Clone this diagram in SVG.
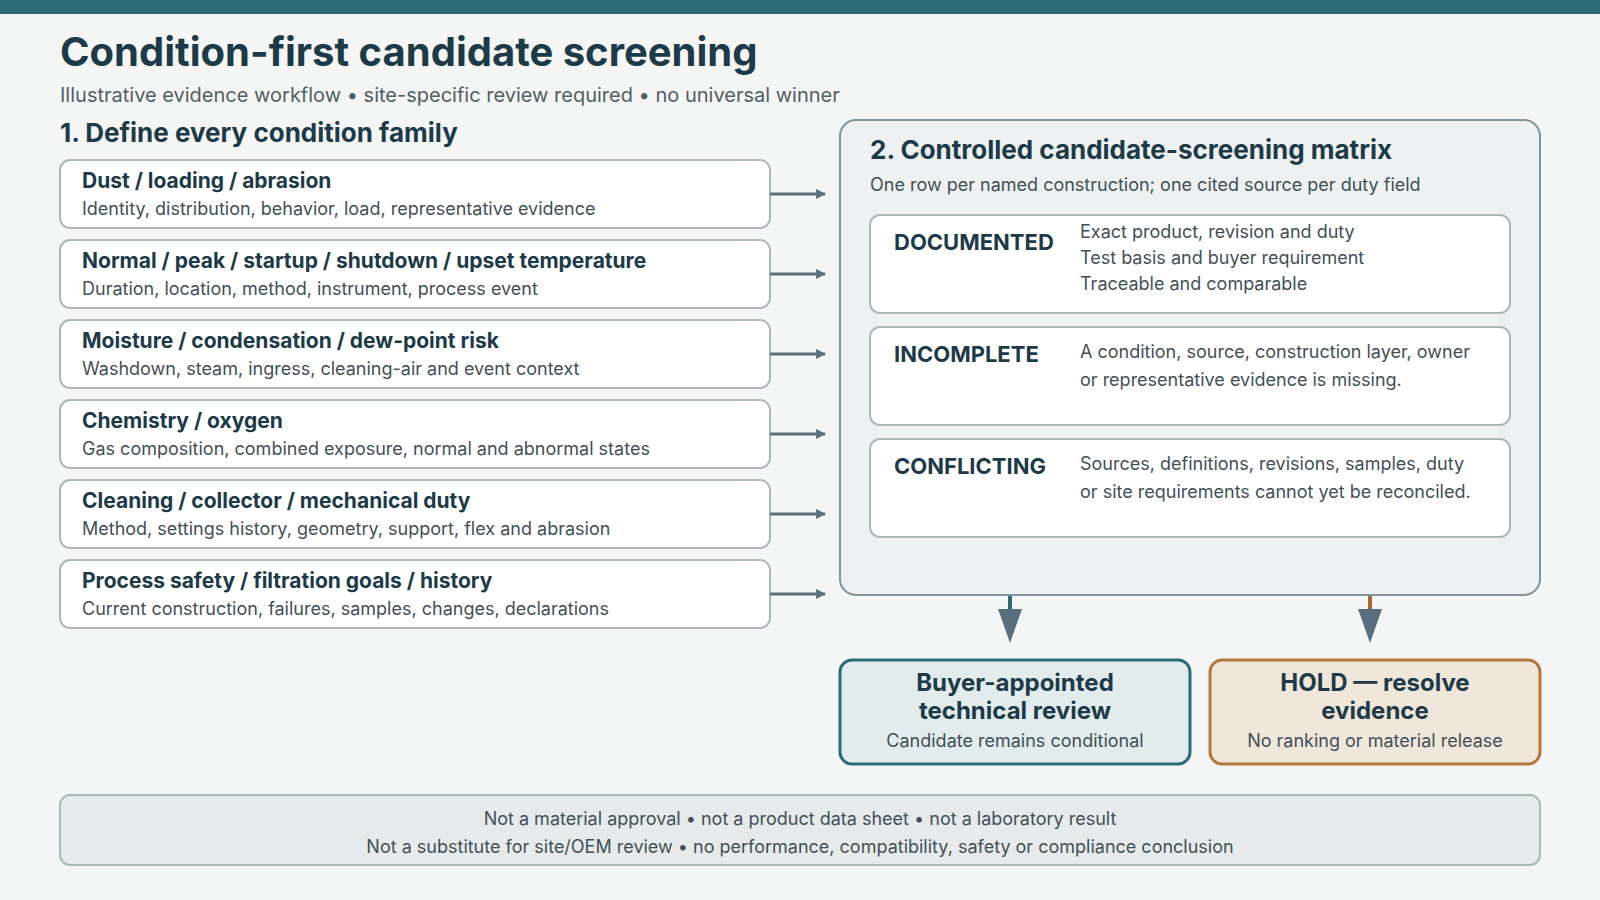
<svg xmlns="http://www.w3.org/2000/svg" width="1600" height="900" viewBox="0 0 1600 900">
<style>
text{font-family:Inter,"Noto Sans","Liberation Sans",sans-serif;fill:#1d3a48}
.h{font-weight:700;font-size:21px}
.s{font-size:18px;fill:#3f5058}
.box{fill:#fff;stroke:#a9b8bd;stroke-width:2}
.lab{font-weight:700;font-size:22px}
.c{text-anchor:middle}
</style>
<defs>
<marker id="ah" markerWidth="10" markerHeight="10" refX="9" refY="5" orient="auto" markerUnits="userSpaceOnUse" viewBox="0 0 10 10"><path d="M0,0L10,5L0,10z" fill="#5a6f7e"/></marker>
</defs>
<rect width="1600" height="900" fill="#f4f6f5"/>
<rect width="1600" height="14" fill="#2a6b75"/>
<text x="60" y="66" font-size="40" font-weight="700">Condition-first candidate screening</text>
<text x="60" y="102" font-size="20" style="fill:#4f5f66">Illustrative evidence workflow • site-specific review required • no universal winner</text>
<text x="60" y="142" font-size="26" font-weight="700">1. Define every condition family</text>
<g id="c1"><rect class="box" x="60" y="160" width="710" height="68" rx="10"/><text class="h" x="82" y="188">Dust / loading / abrasion</text><text class="s" x="82" y="215">Identity, distribution, behavior, load, representative evidence</text></g>
<g id="c2"><rect class="box" x="60" y="240" width="710" height="68" rx="10"/><text class="h" x="82" y="268">Normal / peak / startup / shutdown / upset temperature</text><text class="s" x="82" y="295">Duration, location, method, instrument, process event</text></g>
<g id="c3"><rect class="box" x="60" y="320" width="710" height="68" rx="10"/><text class="h" x="82" y="348">Moisture / condensation / dew-point risk</text><text class="s" x="82" y="375">Washdown, steam, ingress, cleaning-air and event context</text></g>
<g id="c4"><rect class="box" x="60" y="400" width="710" height="68" rx="10"/><text class="h" x="82" y="428">Chemistry / oxygen</text><text class="s" x="82" y="455">Gas composition, combined exposure, normal and abnormal states</text></g>
<g id="c5"><rect class="box" x="60" y="480" width="710" height="68" rx="10"/><text class="h" x="82" y="508">Cleaning / collector / mechanical duty</text><text class="s" x="82" y="535">Method, settings history, geometry, support, flex and abrasion</text></g>
<g id="c6"><rect class="box" x="60" y="560" width="710" height="68" rx="10"/><text class="h" x="82" y="588">Process safety / filtration goals / history</text><text class="s" x="82" y="615">Current construction, failures, samples, changes, declarations</text></g>
<g id="matrix">
<rect x="840" y="120" width="700" height="475" rx="16" fill="#edf1f1" stroke="#7d959c" stroke-width="2"/>
<text x="870" y="159" font-size="26" font-weight="700">2. Controlled candidate-screening matrix</text>
<text class="s" x="870" y="191">One row per named construction; one cited source per duty field</text>
</g>
<g id="documented"><rect class="box" x="870" y="215" width="640" height="98" rx="10"/><text class="lab" x="894" y="250">DOCUMENTED</text><text class="s" x="1080" y="238">Exact product, revision and duty</text><text class="s" x="1080" y="264">Test basis and buyer requirement</text><text class="s" x="1080" y="290">Traceable and comparable</text></g>
<g id="incomplete"><rect class="box" x="870" y="327" width="640" height="98" rx="10"/><text class="lab" x="894" y="362">INCOMPLETE</text><text class="s" x="1080" y="358">A condition, source, construction layer, owner</text><text class="s" x="1080" y="386">or representative evidence is missing.</text></g>
<g id="conflicting"><rect class="box" x="870" y="439" width="640" height="98" rx="10"/><text class="lab" x="894" y="474">CONFLICTING</text><text class="s" x="1080" y="470">Sources, definitions, revisions, samples, duty</text><text class="s" x="1080" y="498">or site requirements cannot yet be reconciled.</text></g>
<g id="review"><rect x="840" y="660" width="350" height="104" rx="12" fill="#e2ecec" stroke="#2a6b75" stroke-width="3"/><text class="c" x="1015" y="691" font-size="24" font-weight="700">Buyer-appointed</text><text class="c" x="1015" y="719" font-size="24" font-weight="700">technical review</text><text class="s c" x="1015" y="747">Candidate remains conditional</text></g>
<g id="hold"><rect x="1210" y="660" width="330" height="104" rx="12" fill="#f1e6da" stroke="#b07a3e" stroke-width="3"/><text class="c" x="1375" y="691" font-size="24" font-weight="700">HOLD — resolve</text><text class="c" x="1375" y="719" font-size="24" font-weight="700">evidence</text><text class="s c" x="1375" y="747">No ranking or material release</text></g>
<g id="footer"><rect x="60" y="795" width="1480" height="70" rx="10" fill="#e6eaea" stroke="#a9b8bd" stroke-width="2"/><text class="s c" x="800" y="825">Not a material approval • not a product data sheet • not a laboratory result</text><text class="s c" x="800" y="853">Not a substitute for site/OEM review • no performance, compatibility, safety or compliance conclusion</text></g>
<g id="connectors" stroke-width="3" fill="none">
<g stroke="#5a6f7e">
<path d="M770 194H825" marker-end="url(#ah)"/>
<path d="M770 274H825" marker-end="url(#ah)"/>
<path d="M770 354H825" marker-end="url(#ah)"/>
<path d="M770 434H825" marker-end="url(#ah)"/>
<path d="M770 514H825" marker-end="url(#ah)"/>
<path d="M770 594H825" marker-end="url(#ah)"/>
</g>
<path d="M1010 596V610" stroke="#2a6b75" stroke-width="4"/>
<path d="M1370 596V610" stroke="#a66a2e" stroke-width="4"/>
<path d="M998 609H1022L1010 643z" fill="#5a6f7e" stroke="none"/>
<path d="M1358 609H1382L1370 643z" fill="#5a6f7e" stroke="none"/>
</g>
</svg>
